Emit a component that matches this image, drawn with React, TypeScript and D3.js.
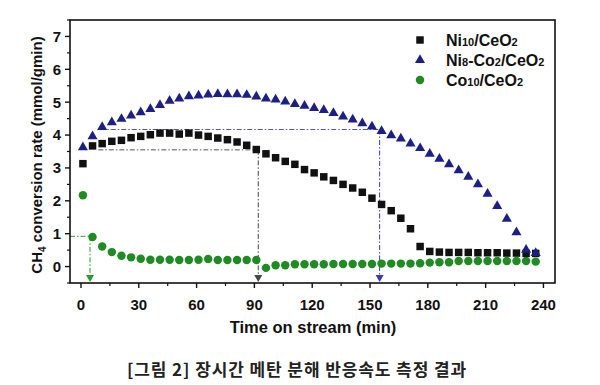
import React from 'react';
import * as d3 from 'd3';

const times = [1, 6, 11, 16, 21, 26, 31, 36, 41, 46, 51, 56, 61, 66, 71, 76, 81, 86, 91, 96, 101, 106, 111, 116, 121, 126, 131, 136, 141, 146, 151, 156, 161, 166, 171, 176, 181, 186, 191, 196, 201, 206, 211, 216, 221, 226, 231, 236];

const ni10 = [3.13, 3.67, 3.74, 3.81, 3.84, 3.92, 3.96, 4.01, 4.06, 4.06, 4.03, 4.06, 4.0, 3.96, 3.91, 3.86, 3.79, 3.69, 3.56, 3.43, 3.31, 3.2, 3.11, 2.95, 2.85, 2.73, 2.62, 2.5, 2.39, 2.26, 2.08, 1.89, 1.7, 1.47, 1.15, 0.61, 0.46, 0.44, 0.43, 0.43, 0.43, 0.42, 0.42, 0.42, 0.41, 0.41, 0.4, 0.4];

const ni8co2 = [3.63, 3.96, 4.24, 4.39, 4.49, 4.59, 4.69, 4.79, 4.91, 5.04, 5.11, 5.18, 5.2, 5.23, 5.25, 5.24, 5.24, 5.22, 5.17, 5.11, 5.08, 5.02, 4.94, 4.89, 4.82, 4.76, 4.67, 4.56, 4.47, 4.36, 4.26, 4.12, 3.99, 3.89, 3.74, 3.6, 3.43, 3.28, 3.11, 2.93, 2.73, 2.5, 2.21, 1.84, 1.45, 1.04, 0.51, 0.41];

const co10 = [2.17, 0.9, 0.61, 0.44, 0.33, 0.28, 0.24, 0.21, 0.21, 0.21, 0.2, 0.2, 0.21, 0.23, 0.2, 0.2, 0.2, 0.2, 0.2, -0.04, 0.04, 0.04, 0.07, 0.07, 0.07, 0.07, 0.08, 0.08, 0.08, 0.08, 0.08, 0.09, 0.09, 0.09, 0.09, 0.1, 0.12, 0.13, 0.13, 0.17, 0.17, 0.17, 0.17, 0.17, 0.17, 0.17, 0.17, 0.15];

const xTicks = [0, 30, 60, 90, 120, 150, 180, 210, 240];
const xMinor = [15, 45, 75, 105, 135, 165, 195, 225];
const yTicks = [0, 1, 2, 3, 4, 5, 6, 7];
const yMinor = [-0.5, 0.5, 1.5, 2.5, 3.5, 4.5, 5.5, 6.5, 7.5];

// guide lines: level, start time, drop time
const guideGreen = { level: 0.92, from: -5.7, drop: 4.7 };
const guideBlack = { level: 3.55, from: 9, drop: 92 };
const guideBlue = { level: 4.17, from: 10, drop: 155 };

const C_BLACK = '#111111';
const C_NAVY = '#1c1f86';
const C_GREEN = '#1e8c22';

export default function App() {
  const W = 600, H = 385;
  const x = d3.scaleLinear().domain([-5.7, 246]).range([70, 555]);
  const y = d3.scaleLinear().domain([-0.5, 7.5]).range([283, 20]);
  const sq = d3.symbol().type(d3.symbolSquare).size(56)();
  const tri = d3.symbol().type(d3.symbolTriangle).size(44)();
  const circ = d3.symbol().type(d3.symbolCircle).size(56)();
  const font = '"Liberation Sans", Arial, sans-serif';
  const dash = '5,2,1.5,2';
  const yb = y(-0.5);

  const guide = (g: { level: number; from: number; drop: number }, hColor: string, vColor: string) => (
    <g>
      <line x1={x(g.from)} x2={x(g.drop)} y1={y(g.level)} y2={y(g.level)} stroke={hColor} strokeWidth={1} strokeDasharray={dash} />
      <line x1={x(g.drop)} x2={x(g.drop)} y1={y(g.level)} y2={yb - 6} stroke={vColor} strokeWidth={1} strokeDasharray={dash} />
      <path d={`M${x(g.drop) - 4},${yb - 8} L${x(g.drop) + 4},${yb - 8} L${x(g.drop)},${yb - 1} Z`} fill={vColor} />
    </g>
  );

  return (
    <svg width={W} height={H} style={{ position: 'absolute', left: 0, top: 0, background: '#fff' }} fontFamily={font}>
      <rect x={0} y={0} width={W} height={H} fill="#fff" />
      {guide(guideBlue, '#55558f', '#3a3ab0')}
      {guide(guideBlack, '#555555', '#444444')}
      {guide(guideGreen, '#3a9a3a', '#2a9a2a')}

      {times.map((t, i) => (
        <path key={'c' + i} d={circ} transform={`translate(${x(t)},${y(co10[i])})`} fill={C_GREEN} />
      ))}
      {times.map((t, i) => (
        <path key={'s' + i} d={sq} transform={`translate(${x(t)},${y(ni10[i])})`} fill={C_BLACK} />
      ))}
      {times.map((t, i) => (
        <path key={'t' + i} d={tri} transform={`translate(${x(t)},${y(ni8co2[i])})`} fill={C_NAVY} />
      ))}

      <rect x={70} y={20} width={485} height={263} fill="none" stroke="#111" strokeWidth={1.6} />

      {xTicks.map(t => (
        <g key={'xt' + t}>
          <line x1={x(t)} x2={x(t)} y1={yb} y2={yb + 5} stroke="#111" strokeWidth={1.4} />
          <text x={x(t)} y={310} textAnchor="middle" fontSize={15} fontWeight="bold" fill="#111">{t}</text>
        </g>
      ))}
      {xMinor.map(t => (
        <line key={'xm' + t} x1={x(t)} x2={x(t)} y1={yb} y2={yb + 3} stroke="#111" strokeWidth={1.2} />
      ))}
      {yTicks.map(v => (
        <g key={'yt' + v}>
          <line x1={65} x2={70} y1={y(v)} y2={y(v)} stroke="#111" strokeWidth={1.4} />
          <text x={61} y={y(v) + 5.4} textAnchor="end" fontSize={15} fontWeight="bold" fill="#111">{v}</text>
        </g>
      ))}
      {yMinor.map(v => (
        <line key={'ym' + v} x1={67} x2={70} y1={y(v)} y2={y(v)} stroke="#111" strokeWidth={1.2} />
      ))}

      <text x={313} y={333} textAnchor="middle" fontSize={16.5} fontWeight="bold" fill="#111">Time on stream (min)</text>
      <text transform={`translate(42,155) rotate(-90)`} textAnchor="middle" fontSize={15} fontWeight="bold" fill="#111">
        CH<tspan fontSize={10} dy={4}>4</tspan><tspan dy={-4}> conversion rate (mmol/gmin)</tspan>
      </text>

      <g>
        <path d={sq} transform="translate(420,40)" fill={C_BLACK} />
        <text x={446} y={45.5} fontSize={16} fontWeight="bold" fill="#111">
          Ni<tspan fontSize={11}>10</tspan>/CeO<tspan fontSize={11}>2</tspan>
        </text>
        <path d={tri} transform="translate(420,60)" fill={C_NAVY} />
        <text x={446} y={65.5} fontSize={16} fontWeight="bold" fill="#111">
          Ni<tspan fontSize={11}>8</tspan>-Co<tspan fontSize={11}>2</tspan>/CeO<tspan fontSize={11}>2</tspan>
        </text>
        <path d={circ} transform="translate(420,80)" fill={C_GREEN} />
        <text x={446} y={85.5} fontSize={16} fontWeight="bold" fill="#111">
          Co<tspan fontSize={11}>10</tspan>/CeO<tspan fontSize={11}>2</tspan>
        </text>
      </g>

      <text x={297} y={376} textAnchor="middle" fontSize={17} letterSpacing={0.9} fontWeight="bold" fill="#222" fontFamily='"Noto Sans CJK KR", sans-serif'>
        [그림 2] 장시간 메탄 분해 반응속도 측정 결과
      </text>
    </svg>
  );
}
